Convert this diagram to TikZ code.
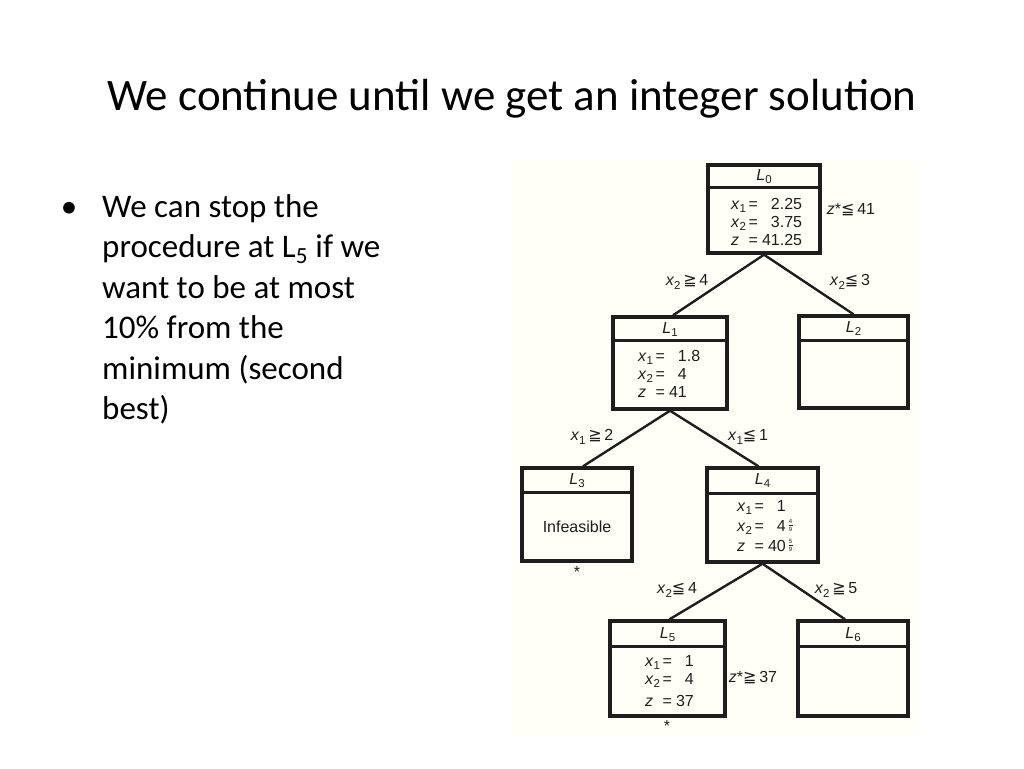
\documentclass[tikz,border=0pt]{standalone}
\usepackage{fontspec}
\setmainfont{Carlito}
\newfontfamily\diagfont{Liberation Sans}
\newfontfamily\symfont{DejaVu Sans}
\usetikzlibrary{calc}
\definecolor{ink}{HTML}{1E1E1E}
\definecolor{paper}{RGB}{255,255,248}
\newcommand\vv[2]{\textit{#1}\raisebox{-3.5pt}{\fontsize{11.5}{12}\selectfont #2}}
\newcommand\myge{{\symfont ≧}}
\newcommand\myle{{\symfont ≦}}
\newcommand\smallfrac[2]{\raisebox{-0.2pt}{\vbox{\offinterlineskip\fontsize{6}{6}\selectfont
  \halign{\hfil##\hfil\cr #1\cr\noalign{\kern1.5pt}\rule{4pt}{0.45pt}\cr\noalign{\kern1.5pt}#2\cr}}}}
\begin{document}
\begin{tikzpicture}[x=1pt,y=-1pt,
  box/.style={draw=ink, line width=3.4pt, inner sep=0pt},
  divider/.style={draw=ink, line width=2.4pt},
  edge/.style={draw=ink, line width=2.4pt},
  lbl/.style={font=\diagfont\fontsize{16}{18}\selectfont, text=ink, inner sep=0pt},
  bodytext/.style={font=\fontsize{33}{40.5}\selectfont, inner sep=0pt, anchor=base west}]
\useasboundingbox (0,0) rectangle (1024,768);
\fill[white] (0,0) rectangle (1024,768);
\fill[paper] (511,159) rectangle (916,735);

% title
\node[anchor=base, inner sep=0pt, font=\fontsize{45}{54}\selectfont] (title) at (512,110) {We continue until we get an integer solution};

% bullet text
\node[anchor=base, inner sep=0pt, font=\fontsize{33}{40.5}\selectfont] (bul) at (69,217) {\textbullet};
\node[bodytext] (b1) at (102,217) {We can stop the};
\node[bodytext] (b2) at (102,257.5) {procedure at L\textsubscript{5} if we};
\node[bodytext] (b3) at (102,298) {want to be at most};
\node[bodytext] (b4) at (102,338.5) {10\% from the};
\node[bodytext] (b5) at (102,379) {minimum (second};
\node[bodytext] (b6) at (102,419.5) {best)};

% boxes
\node[box, minimum width=112pt, minimum height=88pt] (L0) at (764,209) {};
\node[box, minimum width=114pt, minimum height=92pt] (L1) at (670,363) {};
\node[box, minimum width=109pt, minimum height=92pt] (L2) at (853.5,362) {};
\node[box, minimum width=110pt, minimum height=93pt] (L3) at (577,514.5) {};
\node[box, minimum width=111pt, minimum height=94pt] (L4) at (762.5,515) {};
\node[box, minimum width=115pt, minimum height=95pt] (L5) at (667.5,668.5) {};
\node[box, minimum width=110pt, minimum height=95pt] (L6) at (853,668.5) {};

% dividers
\draw[divider] ($(L0.north west)+(0,24)$) -- ($(L0.north east)+(0,24)$);
\draw[divider] ($(L1.north west)+(0,25)$) -- ($(L1.north east)+(0,25)$);
\draw[divider] ($(L2.north west)+(0,26)$) -- ($(L2.north east)+(0,26)$);
\draw[divider] ($(L3.north west)+(0,26)$) -- ($(L3.north east)+(0,26)$);
\draw[divider] ($(L4.north west)+(0,27)$) -- ($(L4.north east)+(0,27)$);
\draw[divider] ($(L5.north west)+(0,27)$) -- ($(L5.north east)+(0,27)$);
\draw[divider] ($(L6.north west)+(0,27)$) -- ($(L6.north east)+(0,27)$);

% connectors
\draw[edge] (L0.south) -- ($(L1.north)+(3,0)$);
\draw[edge] (L0.south) -- (L2.north);
\draw[edge] (L1.south) -- ($(L3.north)+(6,0)$);
\draw[edge] (L1.south) -- ($(L4.north)+(-4,0)$);
\draw[edge] (L4.south) -- ($(L5.north)+(2,0)$);
\draw[edge] (L4.south) -- ($(L6.north)+(-8,0)$);

% headers
\node[lbl] (h0) at ($(L0.north)+(0,13)$) {\vv{L}{0}};
\node[lbl] (h1) at ($(L1.north)+(0,14)$) {\vv{L}{1}};
\node[lbl] (h2) at ($(L2.north)+(0,14)$) {\vv{L}{2}};
\node[lbl] (h3) at ($(L3.north)+(0,14)$) {\vv{L}{3}};
\node[lbl] (h4) at ($(L4.north)+(0,14)$) {\vv{L}{4}};
\node[lbl] (h5) at ($(L5.north)+(0,15)$) {\vv{L}{5}};
\node[lbl] (h6) at ($(L6.north)+(0,15)$) {\vv{L}{6}};

% contents
\node[lbl, anchor=base west] (c0) at (731,209) {\begin{tabular}[t]{@{}l@{\,}l@{\hspace{4pt}}r@{}l@{}}
\vv{x}{1} & = & 2 & .25\\
\vv{x}{2} & = & 3 & .75\\
\textit{z} & = & 41 & .25\end{tabular}};
\node[lbl, anchor=base west] (c1) at (638,361) {\begin{tabular}[t]{@{}l@{\,}l@{\hspace{4pt}}r@{}l@{}}
\vv{x}{1} & = & 1 & .8\\
\vv{x}{2} & = & 4 & \\
\textit{z} & = & 41 & \end{tabular}};
\node[lbl] (c3) at (577,527) {Infeasible};
\node[lbl, anchor=base west] (c4) at (737,511) {\begin{tabular}[t]{@{}l@{\,}l@{\hspace{4pt}}r@{}l@{}}
\vv{x}{1} & = & 1 & \\[2pt]
\vv{x}{2} & = & 4 & \,\smallfrac{4}{9}\\[2pt]
\textit{z} & = & 40 & \,\smallfrac{5}{9}\end{tabular}};
\node[lbl, anchor=base west] (c5) at (645,666) {\begin{tabular}[t]{@{}l@{\,}l@{\hspace{4pt}}r@{}l@{}}
\vv{x}{1} & = & 1 & \\
\vv{x}{2} & = & 4 & \\[4pt]
\textit{z} & = & 37 & \end{tabular}};

% edge labels
\node[lbl] (e01) at (687,282) {\vv{x}{2}\,\myge\,4};
\node[lbl] (e02) at (850,282) {\vv{x}{2}\myle\,3};
\node[lbl] (z0) at (851,210) {\textit{z}*\myle\,41};
\node[lbl] (e13) at (592,437) {\vv{x}{1}\,\myge\,2};
\node[lbl] (e14) at (748,437) {\vv{x}{1}\myle\,1};
\node[lbl] (e45) at (677,590) {\vv{x}{2}\myle\,4};
\node[lbl] (e46) at (836,590) {\vv{x}{2}\,\myge\,5};
\node[lbl] (z5) at (753,678) {\textit{z}*\myge\,37};
\node[lbl] (s3) at (577,572) {*};
\node[lbl] (s5) at (667,726) {*};
\end{tikzpicture}
\end{document}
